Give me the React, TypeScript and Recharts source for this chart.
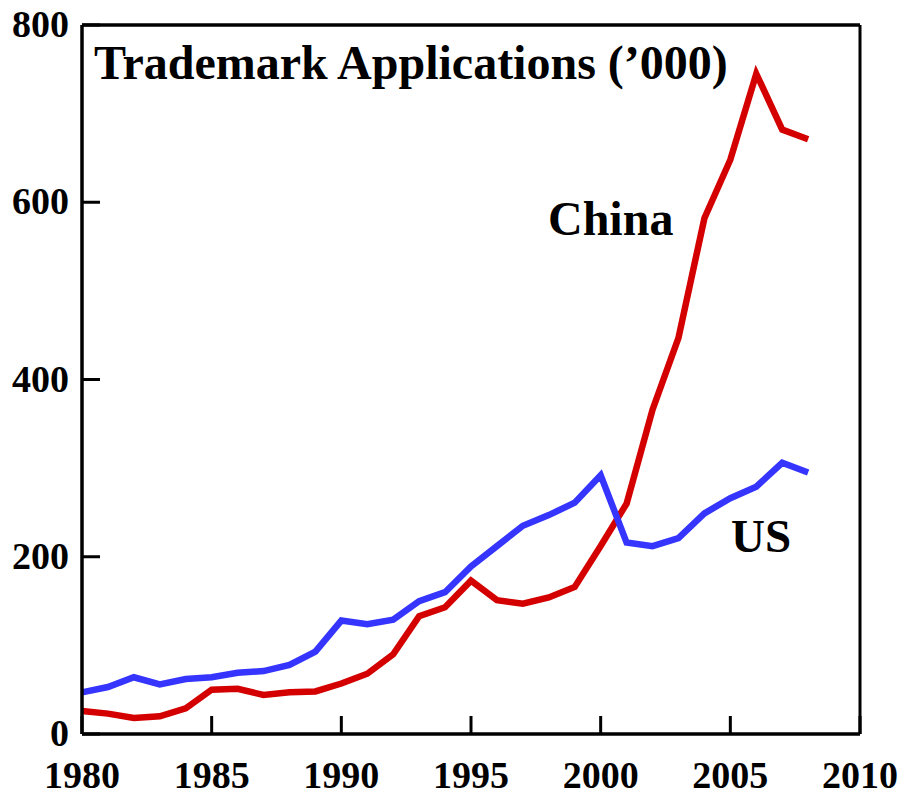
import { LineChart, Line, XAxis, YAxis, ReferenceLine } from "recharts";

const years = [
  1980, 1981, 1982, 1983, 1984, 1985, 1986, 1987, 1988, 1989, 1990, 1991, 1992, 1993, 1994,
  1995, 1996, 1997, 1998, 1999, 2000, 2001, 2002, 2003, 2004, 2005, 2006, 2007, 2008,
];
const china = [
  26, 23, 18, 20, 29, 50, 51, 44, 47, 48, 57, 68, 90, 133, 143, 173, 151, 147, 154, 166, 212,
  260, 366, 447, 582, 648, 745, 682, 671,
];
const us = [
  47, 53, 64, 56, 62, 64, 69, 71, 78, 93, 128, 124, 129, 150, 160, 189, 212, 235, 247, 261, 292,
  216, 212, 221, 249, 266, 279, 306, 295,
];
const xTicks = [1980, 1985, 1990, 1995, 2000, 2005, 2010];
const yTicks = [0, 200, 400, 600, 800];

const data = years.map((year, i) => ({ year, china: china[i], us: us[i] }));

const FONT = "'Liberation Serif', 'Times New Roman', serif";
const W = 905;
const H = 798;
const TICK_LEN = 18;

const XTick = ({ x, y, payload }: any) => (
  <g>
    <line x1={x} y1={y} x2={x} y2={y - TICK_LEN} stroke="#000" strokeWidth={3} />
    <text x={x} y={y + 54} textAnchor="middle" fontFamily={FONT} fontWeight="bold" fontSize={38} fill="#000">
      {payload.value}
    </text>
  </g>
);

const YTick = ({ x, y, payload }: any) => (
  <g>
    <line x1={x} y1={y} x2={x + TICK_LEN} y2={y} stroke="#000" strokeWidth={3} />
    <text x={x - 13} y={y + 12} textAnchor="end" fontFamily={FONT} fontWeight="bold" fontSize={38} fill="#000">
      {payload.value}
    </text>
  </g>
);

export default function App() {
  return (
    <div style={{ position: "absolute", left: 0, top: 0, width: W, height: H, background: "#fff" }}>
      <LineChart width={W} height={H} data={data} margin={{ top: 25, right: 45, left: 0, bottom: 0 }}>
        <XAxis
          dataKey="year"
          type="number"
          domain={[1980, 2010]}
          ticks={xTicks}
          height={64}
          tickSize={0}
          tickMargin={0}
          tickLine={false}
          axisLine={{ stroke: "#000", strokeWidth: 3.5 }}
          tick={<XTick />}
          interval={0}
        />
        <YAxis
          type="number"
          domain={[0, 800]}
          ticks={yTicks}
          width={82}
          tickSize={0}
          tickMargin={0}
          tickLine={false}
          axisLine={{ stroke: "#000", strokeWidth: 3.5 }}
          tick={<YTick />}
          interval={0}
        />
        <ReferenceLine y={800} stroke="#000" strokeWidth={3.5} />
        <ReferenceLine x={2010} stroke="#000" strokeWidth={3} />
        <Line type="linear" dataKey="china" stroke="#d40000" strokeWidth={6.5} dot={false} isAnimationActive={false} />
        <Line type="linear" dataKey="us" stroke="#3535ff" strokeWidth={6.5} dot={false} isAnimationActive={false} />
      </LineChart>
      {/* labels drawn on top of the plot */}
      <svg width={W} height={H} style={{ position: "absolute", left: 0, top: 0, pointerEvents: "none" }}>
        <g fontFamily={FONT} fontWeight="bold" fill="#000">
          <text x={94} y={79} fontSize={48}>
            Trademark Applications (’000)
          </text>
          <text x={548} y={235} fontSize={48}>
            China
          </text>
          <text x={731} y={552} fontSize={47}>
            US
          </text>
        </g>
      </svg>
    </div>
  );
}
